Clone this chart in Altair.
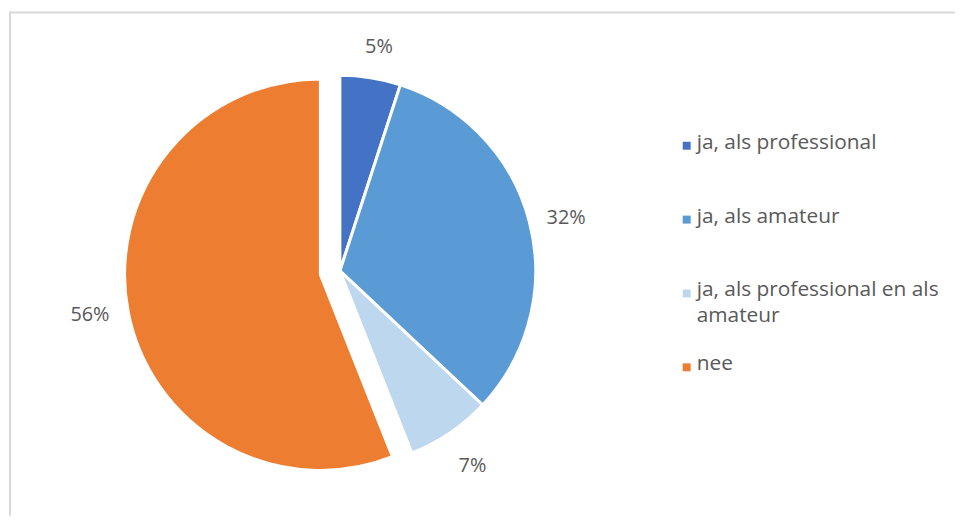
import math
import altair as alt
import pandas as pd

categories = ["ja, als professional", "ja, als amateur",
              "ja, als professional en als amateur", "nee"]
percent = [5, 32, 7, 56]
colors = ["#4472C4", "#5B9BD5", "#BDD7EE", "#ED7D31"]
exploded = [0, 0, 0, 1]
legend_text = ["ja, als professional", "ja, als amateur",
               "ja, als professional en als\namateur", "nee"]

# style / layout
CX, CY = 334, 263
R = 197
EXPLODE = 20
LABEL_R = 232
LABEL_SHIFT = {0: (3, 4), 1: (-4, -3)}
FONT = "Open Sans"
TXT = "#595959"
FS = 20
LFS = 21

df = pd.DataFrame({"cat": categories, "pct": percent, "exp": exploded,
                   "leg": legend_text})
df["end"] = df["pct"].cumsum()
df["start"] = df["end"] - df["pct"]
df["mid"] = (df["start"] + df["end"]) / 2
df["label"] = df["pct"].astype(str) + "%"

theta_scale = alt.Scale(domain=[0, 100], range=[0, 2 * math.pi])
color_scale = alt.Scale(domain=categories, range=colors)

base = alt.Chart(df)

layers = []
for e in [0, 1]:
    sub = df[df["exp"] == e]
    mid = sub["mid"].mean() if e else 0
    ang = mid / 100 * 2 * math.pi
    dx = EXPLODE * math.sin(ang) if e else 0
    dy = -EXPLODE * math.cos(ang) if e else 0
    lsx, lsy = LABEL_SHIFT[e]
    b = base.transform_filter(alt.datum.exp == e)
    arcs = b.mark_arc(outerRadius=R, stroke="white", strokeWidth=3).encode(
        theta=alt.Theta("start:Q", scale=theta_scale, stack=None),
        theta2="end:Q",
        color=alt.Color("cat:N", scale=color_scale, legend=None),
        x=alt.value(CX + dx), y=alt.value(CY + dy),
    )
    labels = b.mark_text(font=FONT, fontSize=FS, color=TXT,
                         radius=LABEL_R).encode(
        theta=alt.Theta("mid:Q", scale=theta_scale, stack=None),
        text="label:N",
        x=alt.value(CX + dx + lsx), y=alt.value(CY + dy + lsy),
    )
    layers += [arcs, labels]

leg_y = alt.Y("cat:N", scale=alt.Scale(type="point", domain=categories,
                                       range=[137, 360], padding=0), axis=None)
leg_sq = base.mark_square(size=64, opacity=1).encode(
    x=alt.value(683), y=leg_y,
    color=alt.Color("cat:N", scale=color_scale, legend=None),
)
leg_tx = base.mark_text(font=FONT, fontSize=LFS, color=TXT, align="left",
                        baseline="top", dy=-14, lineBreak="\n",
                        lineHeight=26).encode(
    x=alt.value(693), y=leg_y, text="leg:N",
)

border_top = alt.Chart(pd.DataFrame({"a": [0]})).mark_rule(
    color="#D9D9D9", strokeWidth=2).encode(
    x=alt.value(2), x2=alt.value(960), y=alt.value(3))
border_left = alt.Chart(pd.DataFrame({"a": [0]})).mark_rule(
    color="#D9D9D9", strokeWidth=2).encode(
    x=alt.value(2), y=alt.value(2), y2=alt.value(520))

chart = alt.layer(border_top, border_left, *layers, leg_sq, leg_tx).properties(
    width=953, height=508, padding=0,
    autosize=alt.AutoSizeParams(type="none"),
).configure_view(stroke=None)

chart.save("out.html", embed_options={"renderer": "svg", "actions": False})
